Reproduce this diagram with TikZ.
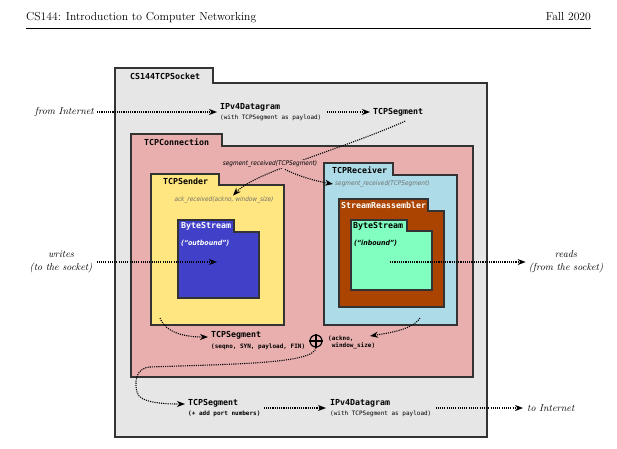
\documentclass[tikz,border=0pt]{standalone}
\usepackage{fontspec}
\usetikzlibrary{arrows.meta}
\newfontfamily\dvmono{DejaVu Sans Mono}
\newfontfamily\dvcond{DejaVu Sans Condensed}
\definecolor{sockgray}{HTML}{E6E6E6}
\definecolor{connpink}{HTML}{E9AFAF}
\definecolor{sendyellow}{HTML}{FFE680}
\definecolor{bsblue}{HTML}{4040C8}
\definecolor{rcvblue}{HTML}{ADDCE8}
\definecolor{srbrown}{HTML}{AA4400}
\definecolor{bsgreen}{HTML}{80FFC0}
\definecolor{bordc}{HTML}{333333}
\definecolor{notegray}{HTML}{707070}
\newcommand\tfolder[7]{\draw[boxline, fill=#7] (#1,#2) -- (#3,#2) -- (#3,#4) -- (#5,#4) -- (#5,#6) -- (#1,#6) -- cycle;}
\tikzset{
  boxline/.style={draw=bordc, line width=1.3pt, line join=miter},
  boxlbl/.style={font=\dvmono\bfseries\fontsize{8.3}{9}\selectfont, inner sep=0pt, anchor=west},
  flow/.style={line width=1.1pt, dash pattern=on 1.1pt off 1.1pt, -{Stealth[length=8pt,width=6pt,inset=2.5pt]}},
  msg/.style={align=left, inner sep=0pt, anchor=west},
  note/.style={font=\dvcond\itshape\fontsize{6.4}{7}\selectfont, text=notegray, inner sep=0pt},
  ext/.style={font=\itshape\fontsize{10}{13}\selectfont, align=center, inner sep=0pt},
}
\newcommand\mainf{\dvmono\bfseries\fontsize{8.3}{9}\selectfont}
\newcommand\subf{\dvmono\fontsize{6}{7}\selectfont}
\newcommand\subbf{\dvmono\bfseries\fontsize{6}{7}\selectfont}
\begin{document}
\begin{tikzpicture}[x=1pt,y=-1pt]
\useasboundingbox (0,0) rectangle (617,448);
% header
\node[anchor=base west, inner sep=0pt, font=\fontsize{11.6}{13}\selectfont] (hdrl) at (26,20) {CS144: Introduction to Computer Networking};
\node[anchor=base east, inner sep=0pt, font=\fontsize{11.6}{13}\selectfont] (hdrr) at (591,20) {Fall 2020};
\draw[line width=0.6pt] (26,28) -- (591,28);
% folders
\tfolder{115}{68}{213}{83}{487}{437}{sockgray}
\tfolder{131}{134}{222}{146}{473}{377}{connpink}
\tfolder{151}{174}{219}{185}{284}{325}{sendyellow}
\tfolder{178}{220}{234}{232}{259}{298}{bsblue}
\tfolder{324}{163}{393}{175}{457}{325}{rcvblue}
\tfolder{339}{199}{428}{211}{444}{307}{srbrown}
\tfolder{351}{220}{407}{231}{432}{290}{bsgreen}
% folder labels
\node[boxlbl] (socklbl) at (130,76) {CS144TCPSocket};
\node[boxlbl] (connlbl) at (144,142) {TCPConnection};
\node[boxlbl] (sndlbl) at (163,181) {TCPSender};
\node[boxlbl, text=white] (obslbl) at (181,226) {ByteStream};
\node[font=\dvcond\bfseries\itshape\fontsize{7}{8}\selectfont, text=white, inner sep=0pt, anchor=west] (outb) at (181,243) {(“outbound”)};
\node[boxlbl] (rcvlbl) at (332,170) {TCPReceiver};
\node[boxlbl, text=white] (srlbl) at (341,205) {StreamReassembler};
\node[boxlbl] (ibslbl) at (353,226) {ByteStream};
\node[font=\dvcond\bfseries\itshape\fontsize{7}{8}\selectfont, inner sep=0pt, anchor=west] (inb) at (354,243) {(“inbound”)};
% top row
\node[ext, anchor=east] (frominet) at (94,112) {from Internet};
\node[msg] (ipv4top) at (220,112) {{\mainf IPv4Datagram}\\[-1.5pt]{\subf (with TCPSegment as payload)}};
\node[msg, font=\mainf] (tsegtop) at (373,112) {TCPSegment};
\draw[flow] ([xshift=3pt]frominet.east) -- ([xshift=-3pt]ipv4top.west);
\draw[flow] ([xshift=5pt]ipv4top.east) -- ([xshift=-3pt]tsegtop.west);
% method labels
\node[note] (ackrec) at (224,200) {ack\_received(ackno, window\_size)};
\node[note, anchor=west] (rcvseg) at (335,184) {segment\_received(TCPSegment)};
\coordinate (segmid) at (270,164);
\draw[flow] ([xshift=7pt,yshift=-5pt]tsegtop.south) .. controls (340,150) and (255,172) .. ([xshift=9pt,yshift=1pt]ackrec.north);
\node[note, text=black, fill=connpink, inner sep=1pt] (segrecv) at (segmid) {segment\_received(TCPSegment)};
\draw[flow] ([xshift=15pt,yshift=-1pt]segrecv.south) .. controls (298,176) and (315,181) .. ([xshift=-2pt]rcvseg.west);
% writes / reads
\node[ext] (writes) at (61,262) {writes\\(to the socket)};
\coordinate (wrin) at (217,262);
\draw[flow] ([xshift=4pt]writes.east) -- (wrin);
\node[ext] (reads) at (566,262) {reads\\(from the socket)};
\coordinate (rdout) at (390,262);
\draw[flow] (rdout) -- ([xshift=-3pt]reads.west);
% bottom of connection
\node[msg] (tsegmid) at (211,340.5) {{\mainf TCPSegment}\\[-1.5pt]{\subbf (seqno, SYN, payload, FIN)}};
\node[circle, draw=black, line width=1.2pt, minimum size=12pt, inner sep=0pt] (oplus) at (316,341) {};
\draw[line width=1.2pt] (oplus.north) -- (oplus.south) (oplus.west) -- (oplus.east);
\node[msg, font=\subbf] (acklbl) at (328,342) {(ackno,\\\hphantom{(}window\_size)};
\coordinate (sndout) at (160,318);
\coordinate (rcvout) at (420,318);
\coordinate (ackin) at (370,336);
\draw[flow] (sndout) .. controls (166,333) and (185,337) .. ([xshift=-3pt,yshift=3.5pt]tsegmid.west);
\draw[flow] (rcvout) .. controls (412,330) and (388,333) .. (ackin);
% socket bottom row
\node[msg] (tsegbot) at (188,408) {{\mainf TCPSegment}\\[-1.5pt]{\subbf (+ add port numbers)}};
\node[msg] (ipv4bot) at (330,408) {{\mainf IPv4Datagram}\\[-1.5pt]{\subf (with TCPSegment as payload)}};
\node[ext, anchor=west] (toinet) at (527,408) {to Internet};
\draw[flow] (oplus.south) .. controls (315,364) and (230,364) .. (150,367) .. controls (134,368) and (135,385) .. (137,392) .. controls (139,403) and (165,404) .. ([xshift=-3pt,yshift=4pt]tsegbot.west);
\draw[flow] ([xshift=3pt]tsegbot.east) -- ([xshift=-4pt]ipv4bot.west);
\draw[flow] ([xshift=4pt]ipv4bot.east) -- ([xshift=-4pt]toinet.west);
\end{tikzpicture}
\end{document}
